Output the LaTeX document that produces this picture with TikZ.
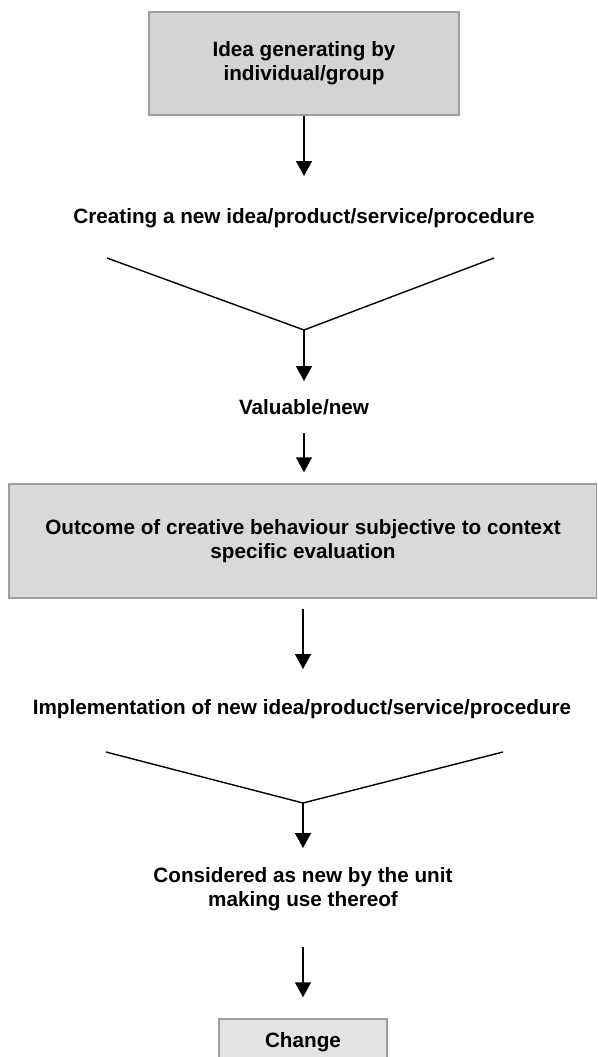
\documentclass[tikz,border=0pt]{standalone}
\usepackage{fontspec}
\setmainfont{Liberation Sans}
\usetikzlibrary{arrows.meta}
\begin{document}
\begin{tikzpicture}[x=1pt,y=-1pt,
  lbl/.style={font=\bfseries\fontsize{20.7}{24}\selectfont, align=center, inner sep=0pt},
  graybox/.style={draw=black!38, line width=1.5pt, fill=#1, inner sep=0pt, font=\bfseries\fontsize{20.7}{24}\selectfont, align=center},
  arr/.style={line width=1.6pt, -{Triangle[width=16pt,length=15pt]}},
  vline/.style={line width=1.4pt}]
\clip (0,0) rectangle (597,1057);
\fill[white] (0,0) rectangle (597,1057);

\node[graybox=black!17, minimum width=310pt, minimum height=103pt] (box1) at (304,63.5) {Idea generating by\\individual/group};
\node[lbl] (t1) at (304,218) {Creating a new idea/product/service/procedure};
\coordinate (v1l) at (107,258);
\coordinate (v1m) at (304,330);
\coordinate (v1r) at (494,258);
\node[lbl] (t2) at (304,407) {Valuable/new};
\node[graybox=black!15, minimum width=588pt, minimum height=114pt] (box2) at (303,541) {Outcome of creative behaviour subjective to context\\specific evaluation};
\node[lbl] (t3) at (302,709) {Implementation of new idea/product/service/procedure};
\coordinate (v2l) at (106,752);
\coordinate (v2m) at (303,803);
\coordinate (v2r) at (503,752);
\node[lbl] (t4) at (303,889) {Considered as new by the unit\\making use thereof};
\node[graybox=black!11, minimum width=168pt, minimum height=46pt] (box3) at (303,1042) {Change};

\draw[arr, shorten >=42pt] (box1.south) -- (box1.south |- t1.center);
\draw[vline] (v1l) -- (v1m) -- (v1r);
\draw[arr, shorten >=26pt] (v1m) -- (v1m |- t2.center);
\draw[arr, shorten <=26pt, shorten >=11pt] (t2.center) -- (t2.center |- box2.north);
\draw[arr, shorten <=10pt, shorten >=40pt] (box2.south) -- (box2.south |- t3.center);
\draw[vline] (v2l) -- (v2m) -- (v2r);
\draw[arr, shorten >=41pt] (v2m) -- (v2m |- t4.center);
\draw[arr, shorten <=58pt, shorten >=21pt] (t4.center) -- (t4.center |- box3.north);
\end{tikzpicture}
\end{document}
